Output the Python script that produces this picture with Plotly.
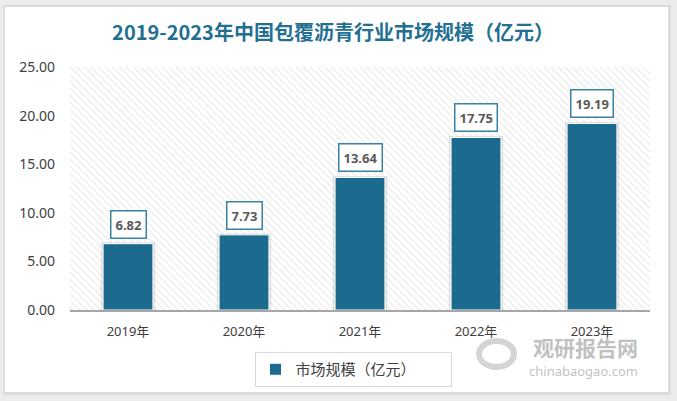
import plotly.graph_objects as go

years = ["2019年", "2020年", "2021年", "2022年", "2023年"]
values = [6.82, 7.73, 13.64, 17.75, 19.19]
y_ticks = [0, 5, 10, 15, 20, 25]
title_text = "2019-2023年中国包覆沥青行业市场规模（亿元）"
series_name = "市场规模（亿元）"

BAR = "#1c6b8e"
FONT = "Noto Sans, Noto Sans CJK SC, sans-serif"
idx = list(range(len(years)))

# plot area in pixels
W, H = 677, 401
L, R, T, B = 70, 27, 67, 91
pw, ph = W - L - R, H - T - B

def px_x(p):
    return (p - L) / pw

def px_y(p):
    return (H - B - p) / ph

fig = go.Figure()

# hatched plot background (bar covering whole axis range)
fig.add_trace(go.Bar(
    x=[(idx[0] + idx[-1]) / 2], y=[y_ticks[-1]], width=[len(years)],
    marker=dict(color="white", line=dict(width=0),
                pattern=dict(shape="\\", fgcolor="#d6d6d6", bgcolor="white",
                             size=5, solidity=0.25)),
    showlegend=False, hoverinfo="skip"))

# soft shadow behind bars
fig.add_trace(go.Bar(
    x=idx, y=[v + 0.15 for v in values], width=0.47,
    marker=dict(color="rgba(0,0,0,0.10)", line=dict(width=0)),
    showlegend=False, hoverinfo="skip"))

fig.add_trace(go.Bar(
    x=idx, y=values, width=0.43, name=series_name,
    marker=dict(color=BAR, line=dict(color="white", width=1))))

for i, v in zip(idx, values):
    fig.add_annotation(
        x=i, y=v, text=f"<b>{v:.2f}</b>", showarrow=False,
        xanchor="center", yanchor="bottom", yshift=5,
        font=dict(family=FONT, size=13, color="#5a5a5a"),
        bgcolor="white", bordercolor="#3a82a3", borderwidth=1.5, borderpad=4)

# card and shadow
fig.add_shape(type="rect", xref="paper", yref="paper", layer="below",
              x0=px_x(3), x1=px_x(671), y0=px_y(395), y1=px_y(5),
              fillcolor="#dcdcdc", line=dict(width=0))
fig.add_shape(type="rect", xref="paper", yref="paper", layer="below",
              x0=px_x(5), x1=px_x(668), y0=px_y(392), y1=px_y(7),
              fillcolor="white", line=dict(width=0))

# watermark
WM = "rgba(150,150,150,0.6)"
fig.add_shape(type="circle", xref="paper", yref="paper",
              x0=px_x(479), x1=px_x(514), y0=px_y(367), y1=px_y(341),
              line=dict(color="rgba(170,170,170,0.5)", width=6))
fig.add_annotation(xref="paper", yref="paper", x=px_x(585), y=px_y(347),
                   xanchor="center", yanchor="middle",
                   text="<b>观研报告网</b>", showarrow=False,
                   font=dict(family="Noto Sans CJK SC", size=21, color=WM))
fig.add_annotation(xref="paper", yref="paper", x=px_x(583), y=px_y(371),
                   xanchor="center", yanchor="middle",
                   text="chinabaogao.com", showarrow=False,
                   font=dict(family=FONT, size=13, color=WM))

fig.update_layout(
    width=W, height=H,
    margin=dict(l=L, r=R, t=T, b=B),
    paper_bgcolor="#ececec", plot_bgcolor="white",
    barmode="overlay",
    title=dict(text=f"<b>{title_text}</b>", x=(333) / W, xanchor="center",
               y=1 - 33 / H, yanchor="middle",
               font=dict(family="Noto Sans CJK SC", size=20, color="#226f92")),
    xaxis=dict(range=[-0.5, len(years) - 0.5], tickvals=idx, ticktext=years,
               showgrid=False, zeroline=False, showline=True,
               linecolor="#a6a6a6", linewidth=2, ticks="", ticklabelstandoff=8,
               tickfont=dict(family=FONT, size=13, color="#404040")),
    yaxis=dict(range=[y_ticks[0], y_ticks[-1]], tickvals=y_ticks,
               tickformat=".2f", showgrid=False, zeroline=False,
               showline=False, ticks="", ticklabelstandoff=14,
               tickfont=dict(family=FONT, size=14, color="#404040")),
    legend=dict(orientation="h", x=px_x(353), xanchor="center",
                y=px_y(352), yanchor="top", entrywidth=150,
                bordercolor="#d9d9d9", borderwidth=1, bgcolor="white",
                font=dict(family="Noto Sans CJK SC", size=15, color="#404040")),
    showlegend=True,
)

fig.write_html("out.html", config={"displayModeBar": False},
               post_script="document.body.style.margin='0';")
